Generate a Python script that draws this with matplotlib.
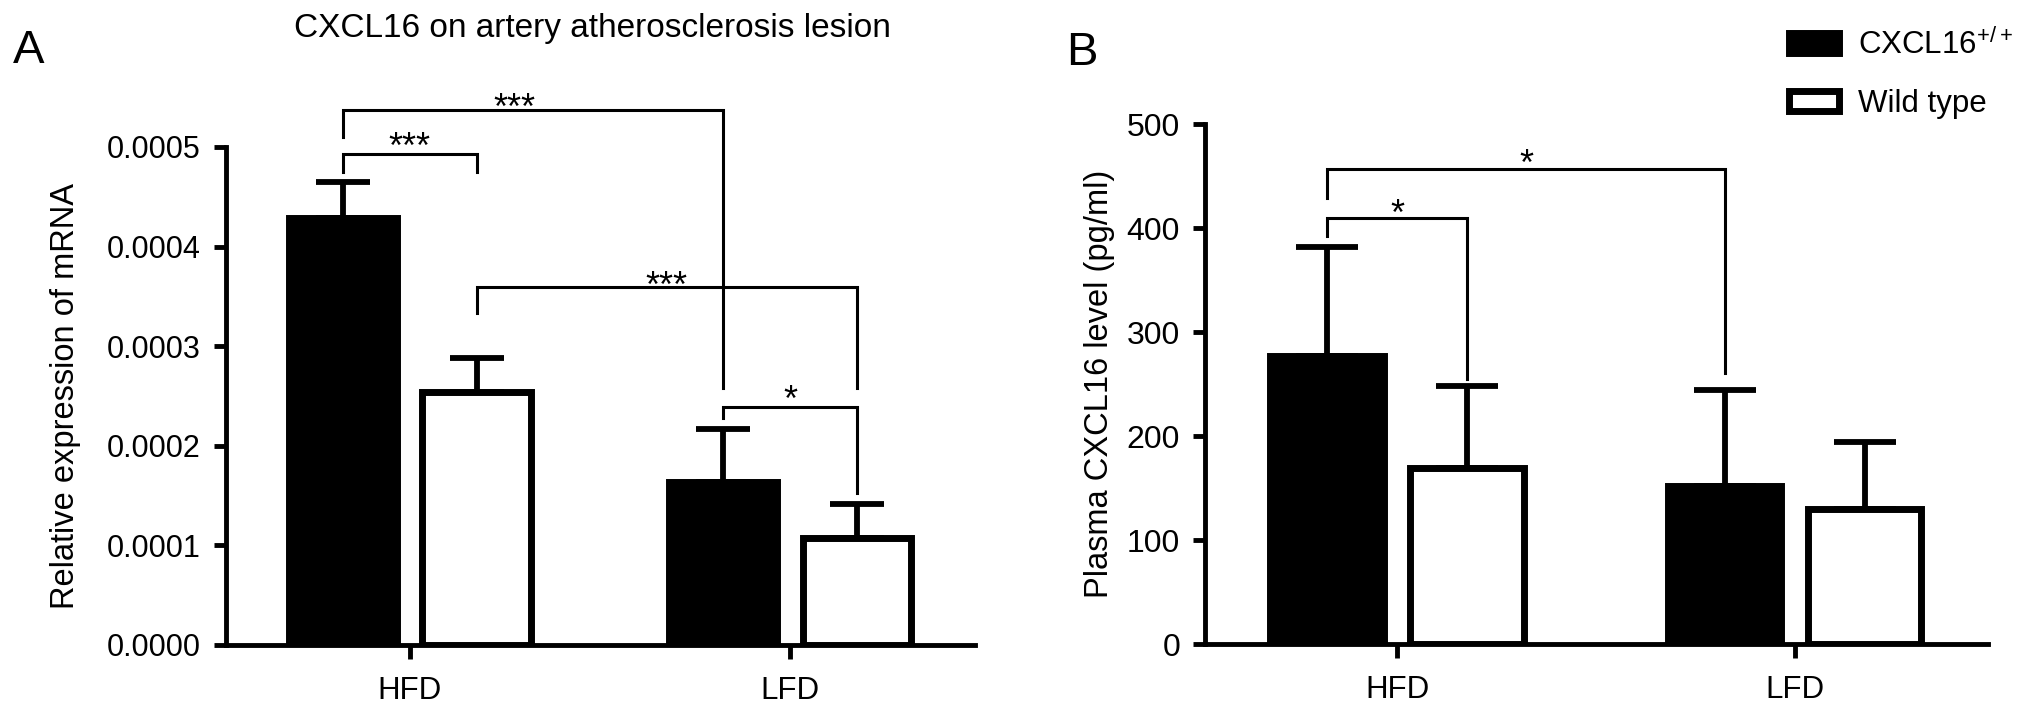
"""Two-panel bar chart: CXCL16 mRNA in lesions (A) and plasma CXCL16 (B)."""

import matplotlib

matplotlib.use("Agg")
import matplotlib.pyplot as plt  # noqa: E402
from matplotlib.patches import Rectangle  # noqa: E402
import numpy as np  # noqa: E402

plt.rcParams["font.family"] = ["Liberation Sans", "DejaVu Sans"]
plt.rcParams["mathtext.fontset"] = "custom"
plt.rcParams["mathtext.rm"] = "Liberation Sans"

groups = ["HFD", "LFD"]
series = [r"CXCL16$^{+/+}$", "Wild type"]
series_colors = ["black", "white"]

# panel A: relative expression of mRNA in the lesion
mrna_cxcl16 = [0.000429, 0.000164]
mrna_cxcl16_sem = [0.000036, 0.000053]
mrna_wt = [0.000254, 0.000107]
mrna_wt_sem = [0.000034, 0.000035]
mrna_ticks = [0.0, 0.0001, 0.0002, 0.0003, 0.0004, 0.0005]

# panel B: plasma CXCL16 level (pg/ml)
plasma_cxcl16 = [277, 152]
plasma_cxcl16_sem = [105, 92]
plasma_wt = [169, 130]
plasma_wt_sem = [79, 64]
plasma_ticks = [0, 100, 200, 300, 400, 500]

# brackets: (group, series) at each end, bracket height, left/right leg ends,
# label, label height, label position along the bracket
brackets_a = [
    ((0, 0), (0, 1), 0.000493, 0.000475, 0.000475, "***", 0.000510, 0.5),
    ((0, 0), (1, 0), 0.000537, 0.000510, 0.000258, "***", 0.000549, 0.45),
    ((0, 1), (1, 1), 0.000359, 0.000333, 0.000258, "***", 0.000370, 0.5),
    ((1, 0), (1, 1), 0.000239, 0.000228, 0.000153, "*", 0.000256, 0.5),
]
brackets_b = [
    ((0, 0), (0, 1), 409.6, 392, 255, "*", 423, 0.5),
    ((0, 0), (1, 0), 456.7, 429, 260.6, "*", 471, 0.5),
]

W, H = 2032, 713
OFFSET = 0.176
WIDTH = 0.285
EDGE = 5.0
AXIS_LW = 3.5
STAR_FS = 26


def bar_x(group, s):
    return group + (OFFSET if s else -OFFSET)


def draw_panel(ax, values, sems, ticks, fmt, capsize, tick_fs):
    x = np.arange(len(groups))
    for s, (vals, sem) in enumerate(zip(values, sems)):
        xs = [bar_x(g, s) for g in x]
        # errorbar sits under the bar so only the upper whisker shows
        ax.errorbar(xs, vals, yerr=[np.zeros(len(vals)), sem], fmt="none",
                    ecolor="black", elinewidth=4.2, capsize=capsize,
                    capthick=4.2, zorder=1)
        ax.bar(xs, vals, WIDTH, color=series_colors[s], edgecolor="black",
               linewidth=EDGE, zorder=2)
    ax.set_xlim(-0.483, 1.486)
    ax.set_ylim(ticks[0], ticks[-1])
    ax.set_xticks(x, groups, fontsize=22.5)
    ax.set_yticks(ticks, [fmt.format(t) for t in ticks], fontsize=tick_fs)
    for side in ("top", "right"):
        ax.spines[side].set_visible(False)
    for side in ("left", "bottom"):
        ax.spines[side].set_linewidth(AXIS_LW)
    ax.tick_params(axis="y", width=AXIS_LW, length=9, pad=9)
    ax.tick_params(axis="x", width=AXIS_LW, length=10, pad=12)


def draw_brackets(ax, brackets):
    for (g1, s1), (g2, s2), y, left_end, right_end, label, label_y, frac in brackets:
        x1, x2 = bar_x(g1, s1), bar_x(g2, s2)
        ax.plot([x1, x1, x2, x2], [left_end, y, y, right_end], color="black",
                lw=2.2, clip_on=False, solid_joinstyle="miter", zorder=3)
        ax.annotate(label, xy=(x1 + frac * (x2 - x1), label_y),
                    xytext=(0, -0.58 * STAR_FS), textcoords="offset points",
                    ha="center", va="baseline", fontsize=STAR_FS,
                    annotation_clip=False)


fig = plt.figure(figsize=(W / 100, H / 100), dpi=100)
ax_a = fig.add_axes([226 / W, 1 - 645 / H, 749 / W, 498 / H])
ax_b = fig.add_axes([1205 / W, 1 - 644 / H, 783 / W, 520 / H])

draw_panel(ax_a, [mrna_cxcl16, mrna_wt], [mrna_cxcl16_sem, mrna_wt_sem],
           mrna_ticks, "{:.4f}", 19.5, 22)
draw_brackets(ax_a, brackets_a)
ax_a.set_ylabel("Relative expression of mRNA", fontsize=23.5)
ax_a.yaxis.set_label_coords(-0.194, 0.5)

draw_panel(ax_b, [plasma_cxcl16, plasma_wt], [plasma_cxcl16_sem, plasma_wt_sem],
           plasma_ticks, "{:d}", 22, 23)
draw_brackets(ax_b, brackets_b)
ax_b.set_ylabel("Plasma CXCL16 level (pg/ml)", fontsize=23.5)
ax_b.yaxis.set_label_coords(-0.115, 0.5)

fig.text(592 / W, 1 - 37 / H, "CXCL16 on artery atherosclerosis lesion",
         ha="center", va="baseline", fontsize=24)
fig.text(29 / W, 1 - 63 / H, "A", ha="center", va="baseline", fontsize=34)
fig.text(1082 / W, 1 - 65 / H, "B", ha="center", va="baseline", fontsize=34)

# legend keys
for i, (name, color) in enumerate(zip(series, series_colors)):
    top = 29 + i * 58
    fig.add_artist(Rectangle(((1785 + 3.5) / W, 1 - (top + 27 - 3.5) / H),
                             50 / W, 20 / H, transform=fig.transFigure,
                             facecolor=color, edgecolor="black", lw=EDGE))
    fig.text(1858 / W, 1 - (top + 25) / H, name, ha="left", va="baseline",
             fontsize=22.5)

fig.savefig("out.png", dpi=100)
